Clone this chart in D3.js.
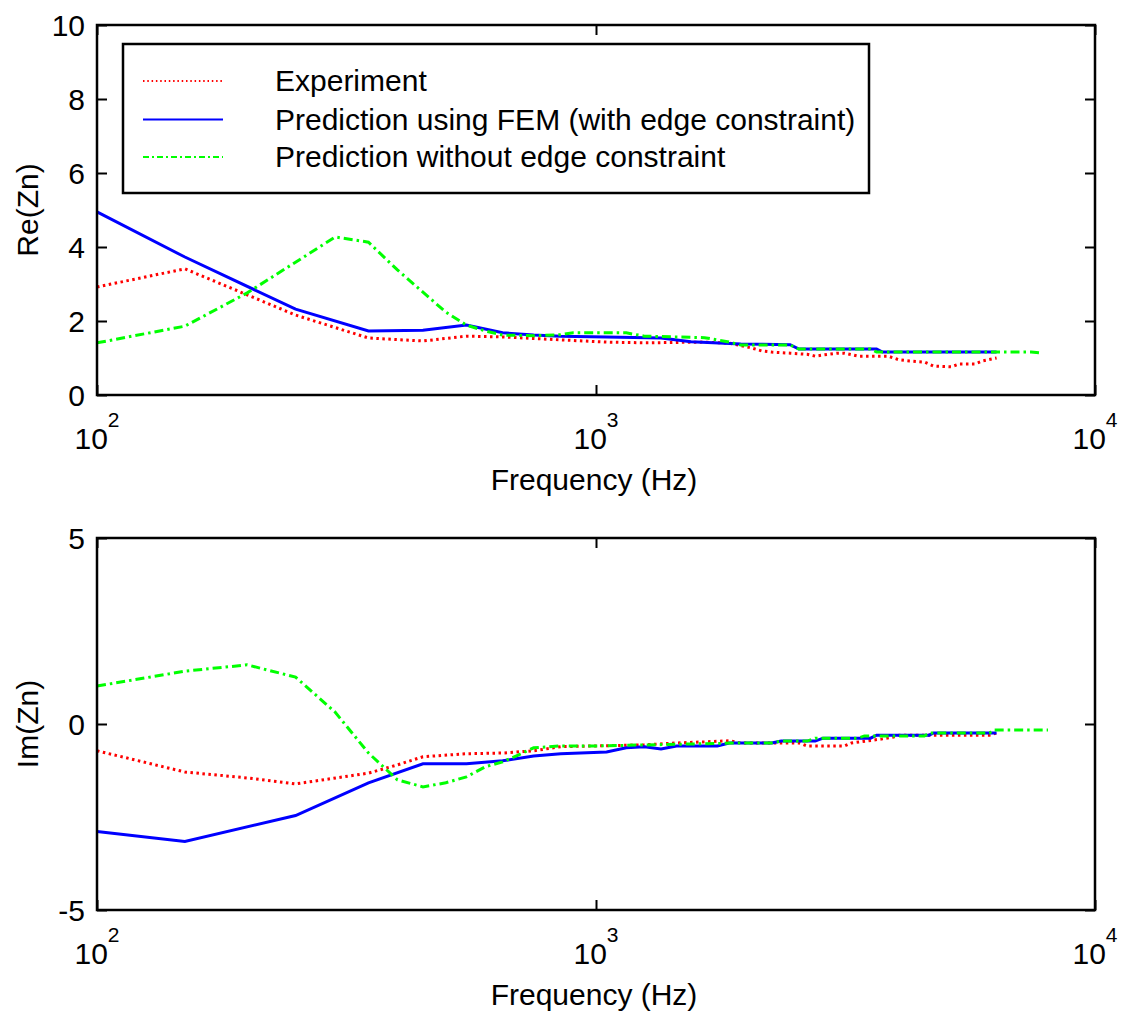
<!DOCTYPE html>
<html>
<head>
<meta charset="utf-8">
<script src="https://cdn.jsdelivr.net/npm/d3@7"></script>
<style>
  html, body { margin: 0; padding: 0; background: #fff; }
  svg { display: block; }
  text { font-family: "Liberation Sans", Arial, sans-serif; fill: #000; }
</style>
</head>
<body>
<svg id="chart" width="1122" height="1016"></svg>
<script>
// ---- data: [frequency (Hz), normalised impedance] ----
const seriesNames = [
  "Experiment",
  "Prediction using FEM (with edge constraint)",
  "Prediction without edge constraint"
];

// Real part
const reExperiment = [
  [100,2.92],[150,3.41],[250,2.16],[350,1.54],[450,1.46],[550,1.59],[650,1.57],
  [850,1.49],[1050,1.43],[1250,1.41],[1650,1.43],[1850,1.40],[2050,1.27],
  [2150,1.19],[2250,1.16],[2450,1.13],[2650,1.10],[2750,1.05],[2850,1.08],
  [3050,1.13],[3150,1.13],[3350,1.05],[3850,1.05],[4050,0.95],[4250,0.92],
  [4550,0.89],[4750,0.78],[5150,0.76],[5350,0.84],[5750,0.84],[5950,0.92],[6350,1.00]
];
const reFEM = [
  [100,4.95],[150,3.73],[250,2.32],[350,1.73],[450,1.75],[550,1.89],[650,1.68],
  [750,1.62],[850,1.59],[1050,1.57],[1350,1.54],[1550,1.44],[1950,1.38],
  [2450,1.36],[2550,1.24],[3650,1.24],[3750,1.16],[6350,1.16]
];
const reNoEdge = [
  [100,1.41],[150,1.86],[200,2.76],[250,3.59],[300,4.27],[350,4.13],[400,3.38],
  [450,2.78],[500,2.24],[550,1.89],[600,1.73],[650,1.62],[750,1.60],[850,1.63],
  [900,1.68],[1150,1.68],[1250,1.59],[1650,1.55],[1850,1.43],[1950,1.35],
  [2450,1.35],[2550,1.24],[3550,1.24],[3650,1.16],[7450,1.16],[7850,1.13]
];

// Imaginary part
const imExperiment = [
  [100,-0.72],[150,-1.29],[200,-1.45],[250,-1.61],[350,-1.32],[400,-1.10],
  [450,-0.88],[550,-0.80],[650,-0.78],[750,-0.72],[850,-0.61],[1000,-0.59],
  [1250,-0.56],[1450,-0.51],[1650,-0.48],[1850,-0.45],[1950,-0.51],[2550,-0.51],
  [2650,-0.59],[3150,-0.59],[3250,-0.51],[3750,-0.40],[3950,-0.35],[4050,-0.30],
  [6150,-0.30],[6350,-0.24]
];
const imFEM = [
  [100,-2.89],[150,-3.16],[250,-2.46],[350,-1.58],[450,-1.07],[550,-1.07],
  [650,-0.99],[750,-0.86],[850,-0.80],[1050,-0.75],[1150,-0.64],[1250,-0.61],
  [1350,-0.67],[1450,-0.59],[1750,-0.59],[1850,-0.51],[2250,-0.51],[2350,-0.46],
  [2750,-0.46],[2850,-0.38],[3550,-0.38],[3650,-0.30],[4650,-0.30],[4750,-0.24],
  [6350,-0.24]
];
const imNoEdge = [
  [100,1.02],[150,1.42],[200,1.59],[250,1.26],[300,0.32],[350,-0.78],[400,-1.50],
  [450,-1.69],[500,-1.58],[550,-1.42],[600,-1.15],[650,-1.02],[700,-0.83],
  [750,-0.64],[850,-0.59],[1000,-0.59],[1950,-0.51],[2250,-0.51],[2350,-0.46],
  [2650,-0.46],[2750,-0.38],[3350,-0.38],[3450,-0.32],[4550,-0.32],[4650,-0.24],
  [6150,-0.24],[6250,-0.16],[8050,-0.16]
];

const reTicks = [0, 2, 4, 6, 8, 10];
const imTicks = [-5, 0, 5];
const freqTicks = [100, 1000, 10000];
const freqTickExponents = ["2", "3", "4"];
const xLabel = "Frequency (Hz)";

// ---- drawing ----
const svg = d3.select("#chart");
const styles = [
  { color: "#ff0000", dash: "2.5,3.5", legendDash: "1.5,2.8" },
  { color: "#0000ff", dash: null,      legendDash: null },
  { color: "#00ff00", dash: "9,4,2.5,4", legendDash: "6,3,2,3" }
];

const left = 97, right = 1095;
const x = d3.scaleLog().domain([100, 10000]).range([left, right]);

function panel(top, bottom, domain, ticks, yLabel, data) {
  const y = d3.scaleLinear().domain(domain).range([bottom, top]);
  const g = svg.append("g");

  const line = d3.line().x(d => x(d[0])).y(d => y(d[1]));
  data.forEach((s, i) => {
    g.append("path")
      .attr("d", line(s))
      .attr("fill", "none")
      .attr("stroke", styles[i].color)
      .attr("stroke-width", 3)
      .attr("stroke-dasharray", styles[i].dash);
  });

  // inward ticks on all four sides; plain hyphen for negative labels
  const yl = d3.axisLeft(y).tickValues(ticks).tickSize(-10).tickPadding(12)
    .tickFormat(d => String(d));
  const yr = d3.axisRight(y).tickValues(ticks).tickSize(-10).tickFormat("");
  const xb = d3.axisBottom(x).tickValues(freqTicks).tickSize(-10).tickFormat("");
  const xt = d3.axisTop(x).tickValues(freqTicks).tickSize(-10).tickFormat("");

  const axes = [
    [yl, `translate(${left},0)`],
    [yr, `translate(${right},0)`],
    [xb, `translate(0,${bottom})`],
    [xt, `translate(0,${top})`]
  ];
  axes.forEach(([ax, tr]) => {
    const a = g.append("g").attr("transform", tr).call(ax);
    a.select(".domain").remove();
    a.selectAll(".tick line").attr("stroke", "#000").attr("stroke-width", 2);
    a.selectAll("text")
      .attr("font-size", 30)
      .attr("font-family", "'Liberation Sans', Arial, sans-serif")
      .attr("fill", "#000")
      .attr("dy", "0.34em");
  });

  g.append("rect")
    .attr("x", left).attr("y", top)
    .attr("width", right - left).attr("height", bottom - top)
    .attr("fill", "none").attr("stroke", "#000").attr("stroke-width", 2.5);

  // decade labels 10^n
  freqTicks.forEach((f, i) => {
    const t = g.append("text")
      .attr("x", x(f)).attr("y", bottom + 54)
      .attr("text-anchor", "middle")
      .attr("font-size", 30);
    t.append("tspan").text("10");
    t.append("tspan").attr("font-size", 21).attr("dy", -22).text(freqTickExponents[i]);
  });

  g.append("text")
    .attr("x", 594).attr("y", bottom + 95)
    .attr("text-anchor", "middle")
    .attr("font-size", 30)
    .text(xLabel);

  g.append("text")
    .attr("transform", `translate(38,${(top + bottom) / 2}) rotate(-90)`)
    .attr("text-anchor", "middle")
    .attr("font-size", 30)
    .text(yLabel);

  return g;
}

const topPanel = panel(25, 395, [0, 10], reTicks, "Re(Zn)", [reExperiment, reFEM, reNoEdge]);
panel(538, 910, [-5, 5], imTicks, "Im(Zn)", [imExperiment, imFEM, imNoEdge]);

// legend
const lg = topPanel.append("g");
lg.append("rect")
  .attr("x", 123).attr("y", 44).attr("width", 746).attr("height", 149)
  .attr("fill", "#fff").attr("stroke", "#000").attr("stroke-width", 2.5);
const rowY = [81, 119.5, 157];
seriesNames.forEach((name, i) => {
  lg.append("line")
    .attr("x1", 143).attr("x2", 223)
    .attr("y1", rowY[i]).attr("y2", rowY[i])
    .attr("stroke", styles[i].color)
    .attr("stroke-width", 2)
    .attr("stroke-dasharray", styles[i].legendDash);
  lg.append("text")
    .attr("x", 275).attr("y", rowY[i] + 10)
    .attr("font-size", 30)
    .text(name);
});
</script>
</body>
</html>
